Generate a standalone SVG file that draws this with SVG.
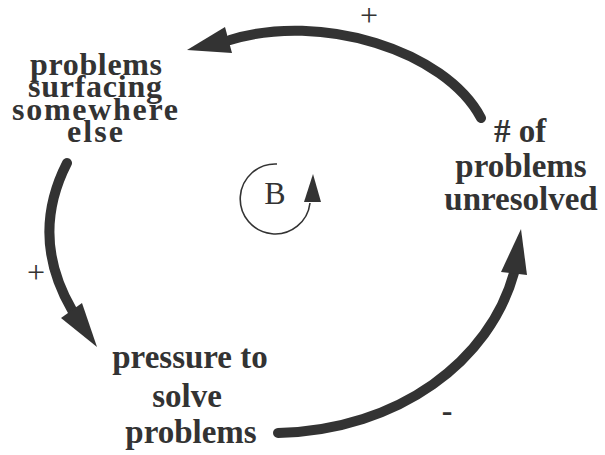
<svg xmlns="http://www.w3.org/2000/svg" width="605" height="455" viewBox="0 0 605 455">
<style>
  .node { font-family: "Liberation Serif", "Times New Roman", serif; font-weight: bold; font-size: 33px; fill: #333; text-anchor: middle; }
  .nodeS { font-family: "Liberation Serif", "Times New Roman", serif; font-weight: bold; font-size: 32px; fill: #333; text-anchor: middle; }
  .link { fill: none; stroke: #333; stroke-width: 10; stroke-linecap: round; }
  .head { fill: #333; stroke: none; }
  .pol { font-family: "Liberation Serif", "Times New Roman", serif; font-size: 32px; fill: #333; text-anchor: middle; }
  .loop { fill: none; stroke: #333; stroke-width: 1.6; }
</style>
<rect width="605" height="455" fill="#fff"/>
<g id="connectors">
  <path class="link" d="M481,118 C445,50 320,12 230,40"/>
  <polygon class="head" points="187,50 225,27 232,53"/>
  <path class="link" d="M67,163 C43,210 43,260 72,310"/>
  <polygon class="head" points="97,347 61,318 82,303"/>
  <path class="link" d="M278,433 C400,430 490,360 514,273"/>
  <polygon class="head" points="521,229 501,272 527,275"/>
  <text class="pol" x="369" y="26" font-size="28">+</text>
  <text class="pol" x="36" y="283">+</text>
  <text class="pol" x="447" y="421" font-weight="bold">-</text>
</g>
<g id="loop-B">
  <path class="loop" d="M277,164 A35,35 0 1 0 310,203"/>
  <polygon class="head" points="313,174 304,202 321,202"/>
  <text class="pol" x="275" y="204">B</text>
</g>
<g id="node-surfacing">
  <text class="nodeS" x="96" y="75" textLength="132" lengthAdjust="spacing">problems</text>
  <text class="nodeS" x="95" y="97" textLength="134" lengthAdjust="spacing">surfacing</text>
  <text class="nodeS" x="95" y="120" textLength="166" lengthAdjust="spacing">somewhere</text>
  <text class="nodeS" x="95" y="142" textLength="56" lengthAdjust="spacing">else</text>
</g>
<g id="node-unresolved">
  <text class="node" x="520" y="142"># of</text>
  <text class="node" x="521" y="177">problems</text>
  <text class="node" x="521" y="210">unresolved</text>
</g>
<g id="node-pressure">
  <text class="node" x="190" y="368">pressure to</text>
  <text class="node" x="187" y="407">solve</text>
  <text class="node" x="191" y="443">problems</text>
</g>
</svg>
